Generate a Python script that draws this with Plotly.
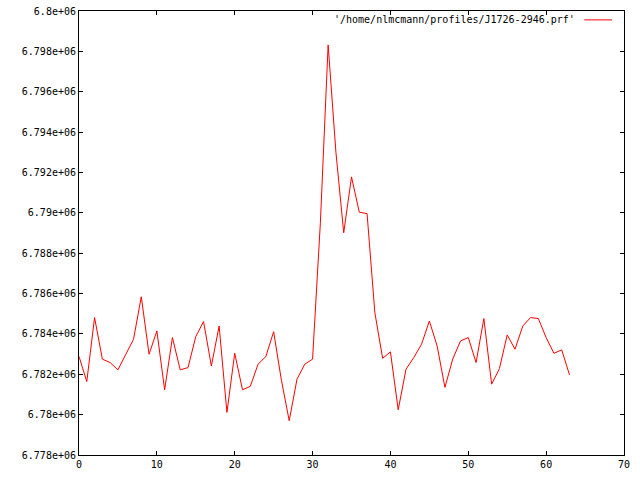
import plotly.graph_objects as go

# profile samples (bin index -> value)
bins = list(range(64))
values = [
    6.78288e6, 6.78164e6, 6.78481e6, 6.78275e6, 6.78258e6, 6.78222e6, 6.78298e6, 6.78373e6,
    6.78584e6, 6.78299e6, 6.78415e6, 6.78123e6, 6.78382e6, 6.78222e6, 6.78233e6, 6.78387e6,
    6.78461e6, 6.78241e6, 6.78439e6, 6.78011e6, 6.78304e6, 6.78123e6, 6.78140e6, 6.78250e6,
    6.78288e6, 6.78411e6, 6.78170e6, 6.77970e6, 6.78176e6, 6.78250e6, 6.78275e6, 6.78950e6,
    6.79832e6, 6.79300e6, 6.78901e6, 6.79178e6, 6.79003e6, 6.78996e6, 6.78505e6, 6.78279e6,
    6.78311e6, 6.78024e6, 6.78225e6, 6.78283e6, 6.78349e6, 6.78464e6, 6.78340e6, 6.78135e6,
    6.78275e6, 6.78365e6, 6.78382e6, 6.78258e6, 6.78476e6, 6.78151e6, 6.78228e6, 6.78395e6,
    6.78324e6, 6.78439e6, 6.78481e6, 6.78476e6, 6.78382e6, 6.78304e6, 6.78321e6, 6.78197e6,
]

x_ticks = [0, 10, 20, 30, 40, 50, 60, 70]
y_ticks = [6.778e6, 6.78e6, 6.782e6, 6.784e6, 6.786e6, 6.788e6, 6.79e6,
           6.792e6, 6.794e6, 6.796e6, 6.798e6, 6.8e6]
y_labels = ["6.778e+06", "6.78e+06", "6.782e+06", "6.784e+06", "6.786e+06", "6.788e+06",
            "6.79e+06", "6.792e+06", "6.794e+06", "6.796e+06", "6.798e+06", "6.8e+06"]
series_name = "'/home/nlmcmann/profiles/J1726-2946.prf'"

FONT = dict(family="DejaVu Sans Mono", size=10, color="black")

fig = go.Figure(go.Scatter(
    x=bins, y=values,
    mode="lines",
    line=dict(color="#ff0000", width=1),
    name=series_name,
    hoverinfo="skip",
))

_axis = dict(
    showline=True, linecolor="black", linewidth=1, mirror="ticks",
    ticks="inside", ticklen=4, tickcolor="black",
    showgrid=False, zeroline=False, tickfont=FONT, automargin=False,
)

fig.update_layout(
    width=640, height=480,
    paper_bgcolor="white", plot_bgcolor="white",
    margin=dict(l=79, r=16, t=11, b=25),
    showlegend=False,
    font=FONT,
    xaxis=dict(**_axis, range=[0, 70], tickvals=x_ticks),
    yaxis=dict(**_axis, range=[6.778e6, 6.8e6], tickvals=y_ticks, ticktext=y_labels),
)

# gnuplot-style key: text on the left, line sample on the right
fig.add_annotation(
    text=series_name, xref="paper", yref="paper",
    x=0.914, y=0.98, xanchor="right", yanchor="middle",
    showarrow=False, font=FONT,
)
fig.add_shape(
    type="line", xref="paper", yref="paper",
    x0=0.927, x1=0.978, y0=0.98, y1=0.98,
    line=dict(color="#ff0000", width=1),
)

# drop the default page margin so the figure sits at the window origin
fig.write_html(
    "out.html",
    config={"displayModeBar": False},
    post_script="document.body.style.margin = '0';",
)
